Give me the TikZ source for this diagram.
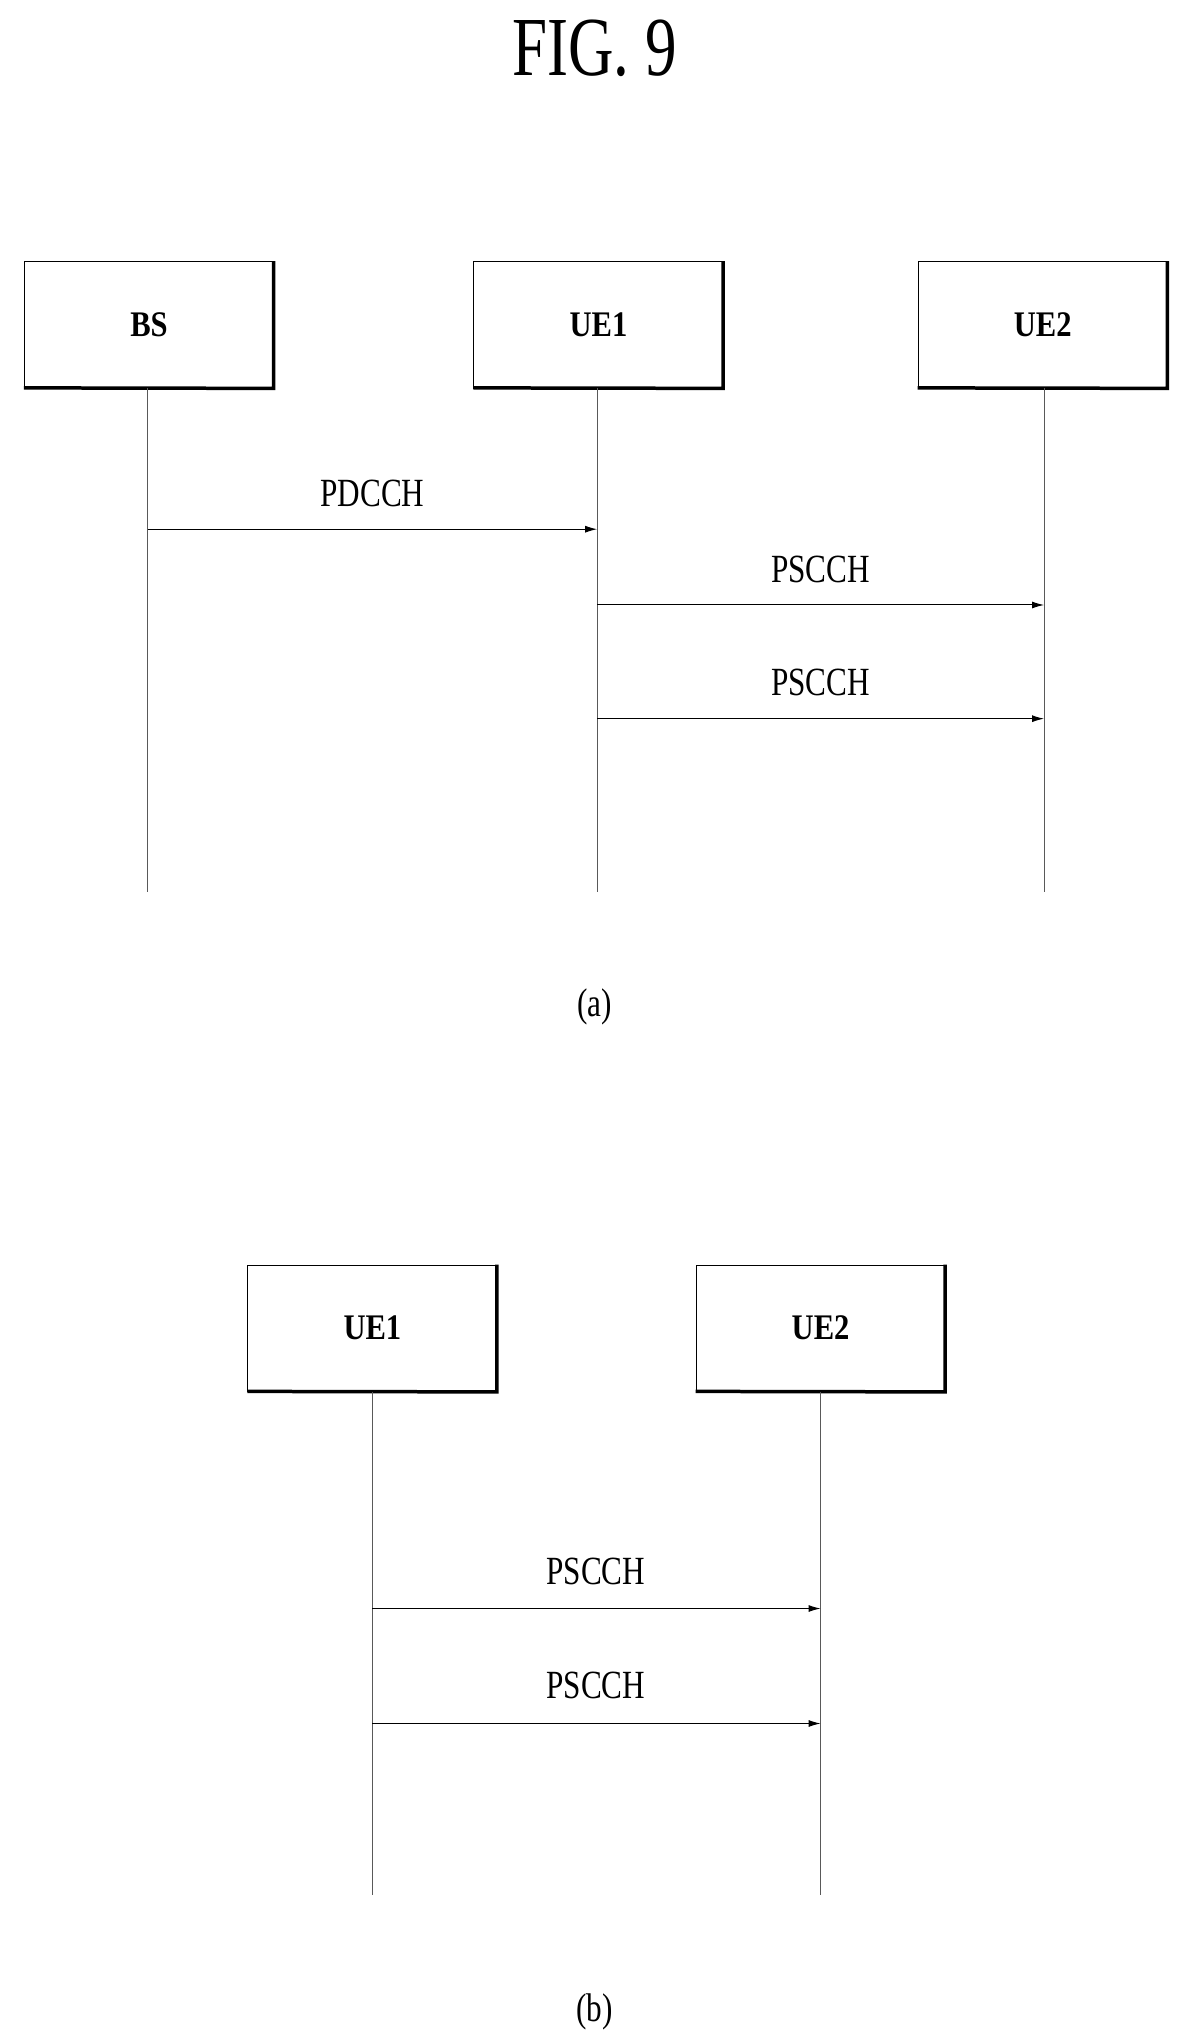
\documentclass[tikz,border=0pt]{standalone}
\usepackage{fontspec}
\setmainfont{Liberation Serif}
\usepackage{graphicx}
\begin{document}
\begin{tikzpicture}[x=1.307pt,y=-1.307pt,
  box/.style={draw,line width=0.6pt,minimum width=191*1.307pt,minimum height=97*1.307pt,inner sep=0pt,
    font=\fontsize{36}{38}\selectfont\bfseries},
  life/.style={line width=0.8pt,gray!70!black},
  msg/.style={line width=1pt,-{Latex[length=12pt,width=7pt]}},
  lbl/.style={font=\fontsize{40}{42}\selectfont,anchor=base}]
\usetikzlibrary{arrows.meta}
\useasboundingbox (0,0) rectangle (910,1562);
\node[font=\fontsize{84}{86}\selectfont,anchor=base] (title) at (455,58) {\scalebox{0.75}[1]{FIG.\ 9}};
% (a)
\foreach \n/\x/\t in {bs/114/BS,ua/458/UE1,ub/798/UE2}{
  \node[box] (\n) at (\x,248.5) {\scalebox{0.85}[1]{\t}};
  \draw[line width=3.5pt] ([xshift=-0.5pt]\n.north east) -- ([xshift=-0.5pt]\n.south east) -- ([yshift=0.5pt]\n.south west);
}
\coordinate (bse) at (113,683); \coordinate (uae) at (457,683); \coordinate (ube) at (799,683);
\draw[life] (113,297) -- (bse);
\draw[life] (457,297) -- (uae);
\draw[life] (799,297) -- (ube);
\coordinate (p1a) at (113,405); \coordinate (p1b) at (457,405);
\coordinate (p2a) at (457,463); \coordinate (p2b) at (799,463);
\coordinate (p3a) at (457,550); \coordinate (p3b) at (799,550);
\draw[msg] (p1a) -- (p1b);
\draw[msg] (p2a) -- (p2b);
\draw[msg] (p3a) -- (p3b);
\node[lbl] (l1) at (285,388) {\scalebox{0.78}[1]{PDCCH}};
\node[lbl] (l2) at (628,446) {\scalebox{0.78}[1]{PSCCH}};
\node[lbl] (l3) at (628,532) {\scalebox{0.78}[1]{PSCCH}};
\node[lbl] (ca) at (455,778) {\scalebox{0.78}[1]{(a)}};
% (b)
\foreach \n/\x/\t in {va/285/UE1,vb/628/UE2}{
  \node[box] (\n) at (\x,1016.5) {\scalebox{0.85}[1]{\t}};
  \draw[line width=3.5pt] ([xshift=-0.5pt]\n.north east) -- ([xshift=-0.5pt]\n.south east) -- ([yshift=0.5pt]\n.south west);
}
\coordinate (vae) at (285,1450); \coordinate (vbe) at (628,1450);
\draw[life] (285,1065) -- (vae);
\draw[life] (628,1065) -- (vbe);
\coordinate (q1a) at (285,1231); \coordinate (q1b) at (628,1231);
\coordinate (q2a) at (285,1319); \coordinate (q2b) at (628,1319);
\draw[msg] (q1a) -- (q1b);
\draw[msg] (q2a) -- (q2b);
\node[lbl] (m1) at (456,1213) {\scalebox{0.78}[1]{PSCCH}};
\node[lbl] (m2) at (456,1300) {\scalebox{0.78}[1]{PSCCH}};
\node[lbl] (cb) at (455,1547) {\scalebox{0.78}[1]{(b)}};
\end{tikzpicture}
\end{document}
